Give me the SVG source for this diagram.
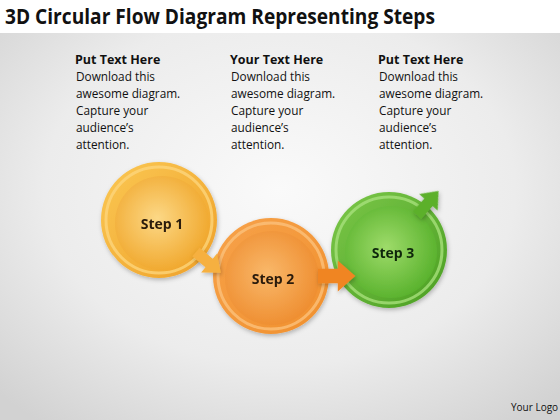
<svg xmlns="http://www.w3.org/2000/svg" width="560" height="420" viewBox="0 0 560 420">
<defs>
<radialGradient id="bg" cx="50%" cy="45%" r="70%">
<stop offset="0" stop-color="#fafafa"/><stop offset="0.6" stop-color="#ececec"/><stop offset="1" stop-color="#d2d2d2"/>
</radialGradient>
<radialGradient id="y1" cx="45%" cy="45%" r="60%"><stop offset="0" stop-color="#fcd886"/><stop offset="1" stop-color="#f0a62a"/></radialGradient>
<linearGradient id="y0" x1="0" y1="0" x2="1" y2="1"><stop offset="0" stop-color="#fbc854"/><stop offset="1" stop-color="#eea028"/></linearGradient>
<radialGradient id="o1" cx="45%" cy="45%" r="60%"><stop offset="0" stop-color="#f9b86a"/><stop offset="1" stop-color="#ee8c2e"/></radialGradient>
<linearGradient id="o0" x1="0" y1="0" x2="1" y2="1"><stop offset="0" stop-color="#f7a24a"/><stop offset="1" stop-color="#f0902e"/></linearGradient>
<radialGradient id="g1" cx="45%" cy="45%" r="60%"><stop offset="0" stop-color="#9edb6a"/><stop offset="1" stop-color="#56b02a"/></radialGradient>
<linearGradient id="g0" x1="0" y1="0" x2="1" y2="1"><stop offset="0" stop-color="#7cc84a"/><stop offset="1" stop-color="#4a9e22"/></linearGradient>
<filter id="sh" x="-20%" y="-20%" width="140%" height="140%"><feDropShadow dx="1" dy="2" stdDeviation="2" flood-color="#000" flood-opacity="0.25"/></filter>
<path id="arr" d="M0,-6 L18,-6 L18,-13 L34,0 L18,13 L18,6 L0,6 Z"/>
</defs>
<style>
.t{font-family:"Open Sans","Liberation Sans",sans-serif;fill:#111}
.h{font-size:12.5px;font-weight:bold}
.b{font-size:11.8px}
.s{font-size:14px;font-weight:bold;fill:#2a1a0a}
</style>
<rect width="560" height="420" fill="url(#bg)"/>
<rect width="560" height="33" fill="#ffffff"/>
<text class="t" x="5" y="24" font-size="21" font-weight="bold" textLength="430" lengthAdjust="spacingAndGlyphs">3D Circular Flow Diagram Representing Steps</text>

<g id="col1">
<text class="t h" x="75" y="64">Put Text Here</text>
<text class="t b"><tspan x="76" y="81">Download this</tspan><tspan x="76" y="98">awesome diagram.</tspan><tspan x="76" y="115">Capture your</tspan><tspan x="76" y="132">audience’s</tspan><tspan x="76" y="149">attention.</tspan></text>
</g>
<g id="col2">
<text class="t h" x="230" y="64">Your Text Here</text>
<text class="t b"><tspan x="231" y="81">Download this</tspan><tspan x="231" y="98">awesome diagram.</tspan><tspan x="231" y="115">Capture your</tspan><tspan x="231" y="132">audience’s</tspan><tspan x="231" y="149">attention.</tspan></text>
</g>
<g id="col3">
<text class="t h" x="378" y="64">Put Text Here</text>
<text class="t b"><tspan x="379" y="81">Download this</tspan><tspan x="379" y="98">awesome diagram.</tspan><tspan x="379" y="115">Capture your</tspan><tspan x="379" y="132">audience’s</tspan><tspan x="379" y="149">attention.</tspan></text>
</g>

<g id="step1" filter="url(#sh)">
<circle cx="159" cy="220" r="58" fill="url(#y0)"/>
<circle cx="159" cy="220" r="53" fill="none" stroke="#fdd47a" stroke-width="3" opacity="0.8"/>
<circle cx="162" cy="223" r="47" fill="url(#y1)"/>
<text class="t s" x="162" y="229" text-anchor="middle">Step 1</text>
</g>
<g id="step3" filter="url(#sh)">
<circle cx="389" cy="250" r="58" fill="url(#g0)"/>
<circle cx="389" cy="250" r="53" fill="none" stroke="#a6e07a" stroke-width="3" opacity="0.8"/>
<circle cx="391" cy="252" r="46" fill="url(#g1)"/>
<text class="t s" x="393" y="258" text-anchor="middle" style="fill:#10280a">Step 3</text>
</g>
<g id="step2" filter="url(#sh)">
<circle cx="271" cy="276" r="58" fill="url(#o0)"/>
<circle cx="271" cy="276" r="53" fill="none" stroke="#fbc07a" stroke-width="3" opacity="0.8"/>
<circle cx="272" cy="278" r="47" fill="url(#o1)"/>
<text class="t s" x="273" y="284" text-anchor="middle">Step 2</text>
</g>

<g id="connectors" filter="url(#sh)">
<use href="#arr" fill="#f6b040" transform="translate(196,252) rotate(40) scale(0.95)"/>
<use href="#arr" fill="#f08520" transform="translate(318,276) scale(1.1,1.2)"/>
<use href="#arr" fill="#5cb02c" transform="translate(417,215) rotate(-48) scale(0.95)"/>
</g>
<text class="t" x="511" y="411" font-size="10" fill="#222">Your Logo</text>
</svg>
